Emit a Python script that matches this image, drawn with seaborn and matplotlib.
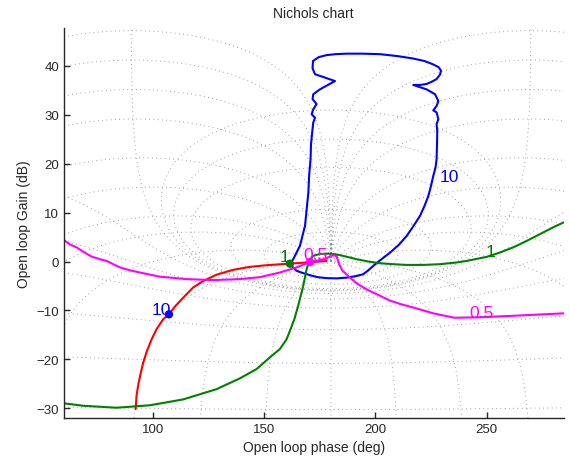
import numpy as np
import matplotlib
matplotlib.use("Agg")
import matplotlib.pyplot as plt
import seaborn as sns

# --- curves (phase deg, gain dB) ---
blue_phase = [161.5, 163.0, 166.0, 168.3, 169.8, 170.2, 170.8, 171.0, 171.6, 172.0,
              172.8, 171.3, 172.0, 173.5, 171.7, 172.0, 175.0, 181.8, 177.3, 172.8,
              171.7, 171.9, 174.5, 178.0, 182.0, 187.0, 194.0, 202.0, 210.0, 217.0,
              222.0, 226.0, 228.5, 229.5, 229.0, 227.5, 225.5, 223.0, 220.0, 217.0,
              223.0, 226.8, 228.3, 227.5, 226.0, 227.5, 228.3, 227.5, 227.8, 227.7,
              227.5, 227.0, 226.0, 225.0, 223.8, 222.0, 220.0, 217.0, 214.0, 210.5,
              206.5, 202.5, 199.0, 196.5, 194.5, 191.0, 187.0, 182.5, 178.0, 174.0,
              170.5, 167.0, 164.5, 161.5]
blue_gain = [-0.55, 0.47, 3.19, 7.28, 14.1, 17.85, 20.9, 24.0, 26.7, 28.4,
             29.4, 30.1, 31.1, 32.2, 33.2, 34.2, 35.2, 36.9, 37.6, 38.3,
             39.5, 41.0, 41.8, 42.2, 42.4, 42.5, 42.5, 42.4, 42.0, 41.5,
             41.0, 40.3, 39.7, 39.0, 38.2, 37.3, 36.8, 36.3, 36.1, 36.1,
             35.2, 34.2, 32.8, 31.8, 30.9, 30.5, 29.1, 28.1, 26.7, 24.0,
             20.9, 19.2, 17.5, 15.5, 13.4, 11.3, 9.3, 7.2, 5.2, 3.4,
             1.8, 0.4, -0.9, -1.9, -2.6, -3.0, -3.3, -3.45, -3.4, -3.2,
             -2.8, -2.3, -1.9, -0.55]

red_phase = [92.1, 92.5, 93.2, 94.3, 95.5, 97.2, 99.3, 101.5, 104.5, 107.1,
             109.8, 113.5, 118.0, 122.5, 128.5, 136.0, 143.5, 151.0, 156.0, 161.0,
             169.0, 178.0]
red_gain = [-30.2, -27.5, -25.4, -23.0, -20.7, -18.3, -15.9, -13.85, -11.8, -10.8,
            -9.2, -7.4, -5.3, -4.0, -2.7, -1.7, -1.1, -0.76, -0.6, -0.45,
            -0.2, 0.1]

green_phase = [59.8, 68.5, 83.5, 98.5, 113.5, 128.5, 139.0, 146.5, 152.5, 157.0,
               160.0, 161.5, 163.5, 165.2, 167.5, 169.0, 170.2, 172.0, 175.0, 178.0,
               181.0, 184.0, 187.7, 191.5, 196.7, 202.0, 208.0, 214.0, 221.5, 229.0,
               236.5, 241.0, 250.0, 256.0, 262.0, 268.0, 274.0, 280.0, 284.7]
green_gain = [-29.0, -29.5, -29.9, -29.4, -28.2, -26.1, -23.9, -22.0, -19.6, -17.9,
              -15.9, -14.2, -11.8, -9.1, -5.0, -1.6, 0.1, 1.15, 1.55, 1.6,
              1.55, 1.3, 0.9, 0.47, 0.0, -0.35, -0.55, -0.7, -0.7, -0.55,
              -0.2, 0.12, 0.94, 1.84, 2.9, 4.2, 5.6, 7.0, 8.0]

magenta_phase = [59.8, 62.5, 65.5, 68.5, 72.3, 76.0, 79.0, 82.0, 85.0, 89.5,
                 94.0, 103.0, 115.0, 127.0, 139.0, 148.0, 157.0, 164.5, 170.5, 177.3,
                 180.5, 182.5, 183.5, 185.0, 188.5, 192.0, 196.0, 202.0, 206.5, 212.0,
                 217.0, 226.0, 235.5, 247.0, 262.0, 284.7]
magenta_gain = [4.4, 3.5, 2.9, 2.0, 1.0, 0.47, 0.12, -0.55, -1.2, -1.8,
                -2.25, -3.1, -3.6, -3.8, -3.6, -3.2, -2.25, -1.2, -0.1, 0.5,
                1.3, 1.1, -0.4, -1.8, -3.3, -4.6, -5.7, -7.0, -8.0, -8.8,
                -9.4, -10.6, -11.5, -11.4, -11.1, -10.6]

# frequency markers and their labels
marker_phase = [161.5, 170.5, 107.1]
marker_gain = [-0.45, -0.1, -10.8]
marker_colors = ["green", "magenta", "blue"]

label_text = ["10", "10", "1", "1", "0.5", "0.5"]
label_phase = [229.0, 99.3, 157.0, 249.7, 167.4, 242.2]
label_gain = [16.5, -10.8, 0.1, 1.15, 0.5, -11.4]
label_colors = ["blue", "blue", "green", "green", "magenta", "magenta"]

# Nichols grid levels (closed loop gain dB / closed loop phase deg)
grid_gain_db = [-30, -20, -12, -6, -3, -1, 0, 0.25, 0.5, 1, 3, 6]
grid_phase_deg = [0.25, 0.5, 1, 2, 5, 10, 20, 30, 50, 90, 120, 150, 180]

sns.set_style("ticks", {"xtick.direction": "in", "ytick.direction": "in"})
plt.rcParams["font.family"] = ["Liberation Sans", "DejaVu Sans"]
plt.rcParams["lines.dotted_pattern"] = [0.8, 3.6]

fig, ax = plt.subplots(figsize=(5.7, 4.64), dpi=100)
fig.subplots_adjust(left=0.112, right=0.989, bottom=0.097, top=0.937)

# --- Nichols grid ---
ph = np.linspace(58, 287, 1400)
gd = np.linspace(-34, 50, 1100)
PH, GD = np.meshgrid(ph, gd)
L = 10 ** (GD / 20) * np.exp(1j * np.radians(PH))
with np.errstate(divide="ignore", invalid="ignore"):
    T = L / (1 + L)
    M = 20 * np.log10(np.abs(T))
    N = np.mod(np.degrees(np.angle(T)), 360)
N = np.ma.masked_where((N < 0.1) | (N > 359.9) | ~np.isfinite(N), N)
M = np.ma.masked_invalid(M)
n_levels = sorted(set(grid_phase_deg + [360 - p for p in grid_phase_deg]))
ax.contour(PH, GD, M, levels=grid_gain_db, colors="0.55", linewidths=0.7, linestyles=":")
ax.contour(PH, GD, N, levels=n_levels, colors="0.55", linewidths=0.7, linestyles=":")

# --- curves ---
for xs, ys, c in [(blue_phase, blue_gain, "blue"), (red_phase, red_gain, "red"),
                  (green_phase, green_gain, "green"), (magenta_phase, magenta_gain, "magenta")]:
    sns.lineplot(x=xs, y=ys, sort=False, estimator=None, color=c, linewidth=1.5, ax=ax)

sns.scatterplot(x=marker_phase, y=marker_gain, hue=marker_colors, palette={c: c for c in marker_colors},
                s=36, edgecolor="none", legend=False, ax=ax, zorder=5)

for t, x, y, c in zip(label_text, label_phase, label_gain, label_colors):
    ax.text(x, y, t, color=c, fontsize=12.5, ha="left", va="baseline")

ax.set_xlim(59.8, 284.7)
ax.set_ylim(-32, 47.7)
ax.set_xticks([100, 150, 200, 250])
ax.set_yticks([-30, -20, -10, 0, 10, 20, 30, 40])
ax.tick_params(labelsize=9.5, length=4, width=1)
for s in ["left", "bottom"]:
    ax.spines[s].set_linewidth(1.0)
sns.despine(ax=ax)
ax.set_xlabel("Open loop phase (deg)", fontsize=10)
ax.set_ylabel("Open loop Gain (dB)", fontsize=10)
ax.set_title("Nichols chart", fontsize=10, pad=8)

fig.savefig("out.png", dpi=100)
